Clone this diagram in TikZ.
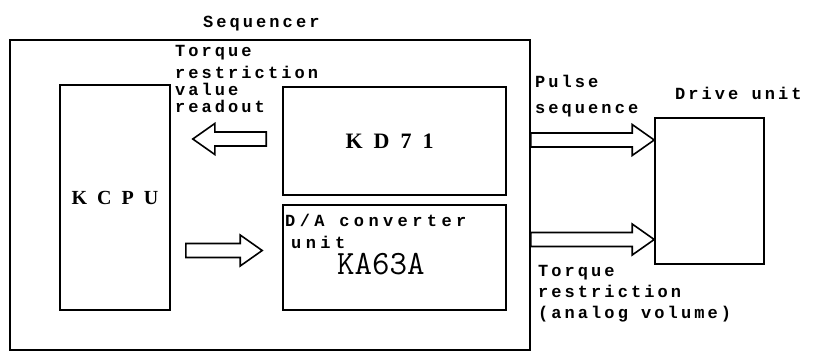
\documentclass[tikz,border=0pt]{standalone}
\usepackage{fontspec}
\usetikzlibrary{calc}
\newfontfamily\labelfont[LetterSpace=18]{Liberation Mono}
\newfontfamily\partfont[LetterSpace=50]{Liberation Serif}
\begin{document}
\begin{tikzpicture}[x=1pt,y=-1pt,line join=miter,
  box/.style={draw,line width=1.6pt,rectangle,inner sep=0pt},
  lbl/.style={font=\labelfont\bfseries\fontsize{17}{17}\selectfont,
              inner sep=0pt,align=left,anchor=base west},
  part/.style={font=\partfont\bfseries\fontsize{20}{20}\selectfont},
  fat/.style={draw,line width=1.6pt,to path={
    let \p1=(\tikztostart), \p2=(\tikztotarget),
        \p3=($(\tikztotarget)!22pt!(\tikztostart)$) in
    (\x1,\y1+7pt) -- (\x3,\y1+7pt) -- (\x3,\y1+15.5pt) -- (\x2,\y1)
    -- (\x3,\y1-15.5pt) -- (\x3,\y1-7pt) -- (\x1,\y1-7pt) -- cycle}}]
\useasboundingbox (0,0) rectangle (813,351);

% blocks
\node[box,minimum width=520pt,minimum height=310pt] (seq) at (270,195) {};
\node[box,minimum width=110pt,minimum height=225pt,part] (kcpu) at (115,197.5) {KCPU};
\node[box,minimum width=223pt,minimum height=108pt,part,
      font=\partfont\bfseries\fontsize{22}{22}\selectfont] (kd71) at (394.5,141) {\kern-10pt KD71};
\node[box,minimum width=223pt,minimum height=105pt] (ka63a) at (394.5,257.5) {};
\node[box,minimum width=109pt,minimum height=146pt] (drive) at (709.5,191) {};

% texts (multi-line labels are placed by the baseline of their last line)
\node[lbl] (seqlbl) at (203,27) {Sequencer};
\node[lbl] (readlbl) at (175,112) {Torque\\[5pt]restriction\\value\\readout};
\node[lbl] (pulselbl) at (535,113) {Pulse\\[9pt]sequence};
\node[lbl] (drivelbl) at (675,99) {Drive unit};
\node[lbl] (torquelbl) at (538,318) {Torque\\[4pt]restriction\\[4pt](analog volume)};
\node[lbl,font=\labelfont\bfseries\addfontfeatures{LetterSpace=26}\fontsize{17}{17}\selectfont]
  (dalbl) at (285,248) {D/A converter\\[5pt]\hspace*{6pt}unit};
\node[anchor=base west,inner sep=0pt,
      font=\ttfamily\addfontfeatures{LetterSpace=10}\fontsize{34}{34}\selectfont]
  (kalbl) at (337,274) {KA63A};

% connection points of the block arrows
\coordinate (rdtail) at ($(kd71.west)+(-16,-2)$);
\coordinate (rdtip)  at ($(kcpu.east |- kd71.west)+(22,-2)$);
\coordinate (wrtail) at ($(kcpu.east |- ka63a.west)+(15,-7)$);
\coordinate (wrtip)  at ($(ka63a.west)+(-20,-7)$);
\coordinate (pstail) at ($(seq.east |- kd71.west)+(0,-1)$);
\coordinate (pstip)  at ($(drive.west |- kd71.west)+(0,-1)$);
\coordinate (tqtail) at ($(seq.east |- ka63a.west)+(0,-18)$);
\coordinate (tqtip)  at ($(drive.west |- ka63a.west)+(0,-18)$);

% block arrows
\draw[fat] (rdtail) to (rdtip);
\draw[fat] (wrtail) to (wrtip);
\draw[fat] (pstail) to (pstip);
\draw[fat] (tqtail) to (tqtip);
\end{tikzpicture}
\end{document}
